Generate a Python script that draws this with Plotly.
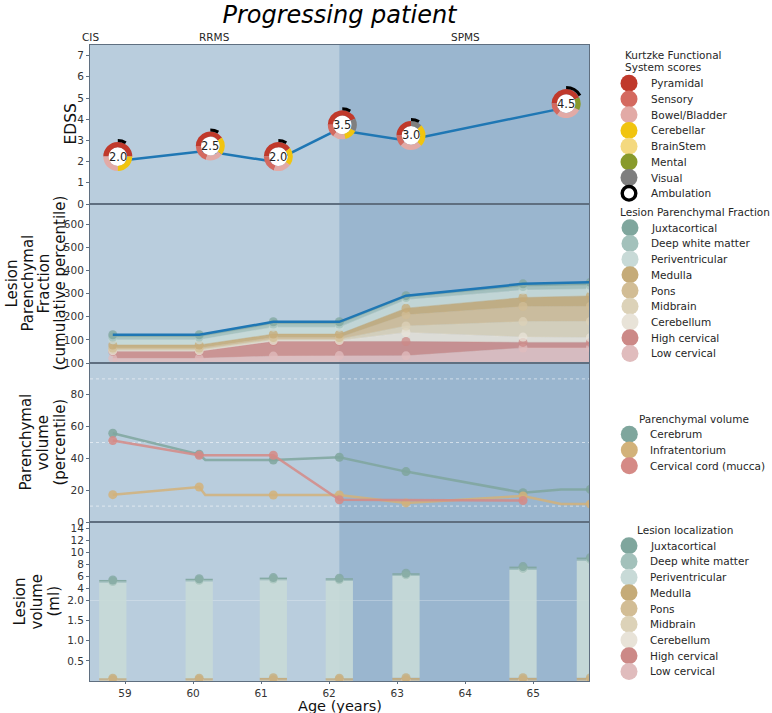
import numpy as np
import plotly.graph_objects as go
from plotly.subplots import make_subplots

# ======================= DATA =======================
phase_labels = ["CIS", "RRMS", "SPMS"]
phase_start = [58.40, 58.485, 62.15]
phase_end = [58.57, 62.15, 65.85]

# clinical visits (EDSS + Kurtzke functional systems)
clinical_age = [58.82, 60.18, 61.18, 62.12, 63.13, 65.41]
edss = [2.0, 2.5, 2.0, 3.5, 3.0, 4.5]

fs_names = ["Pyramidal", "Sensory", "Bowel/Bladder", "Cerebellar", "BrainStem", "Mental", "Visual"]
fs_pyramidal = [2, 2, 2, 3, 2, 3]
fs_sensory = [0, 1, 1, 1, 1, 1]
fs_bowel_bladder = [1, 1, 1, 1, 2, 2]
fs_cerebellar = [1, 1, 1, 1, 2, 0]
fs_brainstem = [0, 0, 0, 0, 0, 0]
fs_mental = [0, 0, 0, 0, 0, 1]
fs_visual = [0, 0, 0, 1, 1, 0]
ambulation = [1, 1, 1, 1, 1, 2]
AMBULATION_MAX = 12

# MRI examinations
mri_age = [58.82, 60.09, 61.18, 62.15, 63.13, 64.85, 65.84]

lesion_names = ["Juxtacortical", "Deep white matter", "Periventricular", "Medulla", "Pons",
                "Midbrain", "Cerebellum", "High cervical", "Low cervical"]

# Lesion parenchymal fraction (percentile contribution per region)
lpf_juxtacortical = [10, 10, 10, 10, 8, 12, 13]
lpf_deep_white = [12, 12, 13, 13, 10, 15, 16]
lpf_periventricular = [22, 22, 30, 30, 36, 32, 30]
lpf_medulla = [13, 13, 15, 15, 29, 39, 45]
lpf_pons = [7, 7, 7, 7, 48, 65, 65]
lpf_midbrain = [5, 5, 6, 6, 28, 67, 70]
lpf_cerebellum = [3, 3, 4, 4, 39, 23, 21]
lpf_high_cervical = [30, 30, 63, 61, 62, 24, 24]
lpf_low_cervical = [20, 20, 30, 32, 31, 65, 65]

# Parenchymal volume percentiles (merged MRI + clinical timeline)
pv_names = ["Cerebrum", "Infratentorium", "Cervical cord (mucca)"]
pv_timeline_age = [58.82, 60.09, 60.18, 61.18, 62.15, 63.13, 64.85, 65.41, 65.84]
pv_is_mri = [True, True, False, True, True, True, True, False, True]
pv_cerebrum = [55.8, 42.6, 39.0, 39.0, 40.7, 31.7, 18.4, 20.5, 20.5]
pv_infratentorium = [17.2, 22.0, 17.0, 17.0, 17.0, 12.0, 16.4, 11.3, 11.3]
pv_cervical = [51.2, 42.0, 42.0, 42.0, 14.0, None, 13.5, None, None]

# Lesion volume (ml)
lv_juxtacortical = [0.25, 0.25, 0.25, 0.25, 0.25, 0.30, 0.30]
lv_deep_white = [0.20, 0.20, 0.20, 0.20, 0.20, 0.25, 0.25]
lv_periventricular = [4.88, 5.08, 5.26, 5.17, 5.98, 6.98, 8.48]
lv_medulla = [0.04, 0.04, 0.05, 0.04, 0.05, 0.05, 0.05]
lv_pons = [0.02, 0.02, 0.02, 0.02, 0.02, 0.02, 0.02]
lv_midbrain = [0.01, 0.01, 0.01, 0.01, 0.01, 0.01, 0.01]
lv_cerebellum = [0.0, 0.0, 0.0, 0.0, 0.0, 0.0, 0.0]
lv_high_cervical = [0.0, 0.0, 0.0, 0.0, 0.0, 0.0, 0.0]
lv_low_cervical = [0.0, 0.0, 0.0, 0.0, 0.0, 0.0, 0.0]

edss_ticks = [0, 1, 2, 3, 4, 5, 6, 7]
lpf_ticks = [100, 200, 300, 400, 500, 600]
pv_ticks = [0, 20, 40, 60, 80, 100]
pv_guides = [10, 50, 90]
lv_ticks = [0.5, 1.0, 1.5, 2.0, 4, 6, 8, 10, 12, 14]
lv_ticktext = ["0.5", "1.0", "1.5", "2.0", "4", "6", "8", "10", "12", "14"]
age_ticks = [59, 60, 61, 62, 63, 64, 65]

# ======================= STYLE =======================
FIG_W, FIG_H = 772, 713
M_L, M_R, M_T, M_B = 90, 183, 45, 32
PW = FIG_W - M_L - M_R
PH = FIG_H - M_T - M_B
X_RANGE = [58.485, 65.82]
EDSS_RANGE = [0, 7.5]
LPF_RANGE = [0, 687]
PV_RANGE = [0, 100]
LV_BREAK, LV_SCALE = 2.0, 0.15
LV_TOP = 15.0
FONT = "DejaVu Sans"
TXT = "#262626"
SPINE = "#5f6f80"
BG_LIGHT = "#b9cddd"
BG_DARK = "#9ab6cf"
phase_colors = [BG_LIGHT, BG_LIGHT, BG_DARK]

fs_colors = ["#c0392b", "#d4695f", "#e2aaa6", "#f1c40f", "#f4d97f", "#889a2c", "#7f7f7f"]
lesion_colors = ["#7fa69d", "#a3c1bb", "#c8dad7", "#c5ab78", "#d2bd95", "#dcd2b8",
                 "#e8e3d8", "#cc8987", "#e0bcbd"]
pv_colors = ["#7fa69d", "#d2b27a", "#d58a86"]
LINE_BLUE = "#1f77b4"


def rgba(h, a):
    h = h.lstrip("#")
    return f"rgba({int(h[0:2], 16)},{int(h[2:4], 16)},{int(h[4:6], 16)},{a})"


def T(v):
    v = np.asarray(v, dtype=float)
    return np.where(v <= LV_BREAK, v, LV_BREAK + (v - LV_BREAK) * LV_SCALE)


def pxx(px):
    return (px - M_L) / PW


def pxy(py):
    return (FIG_H - M_B - py) / PH


fig = make_subplots(rows=4, cols=1, shared_xaxes=True, vertical_spacing=0)

# ---------- background phases ----------
for r, (xa, ya) in enumerate([("x", "y"), ("x2", "y2"), ("x3", "y3"), ("x4", "y4")]):
    for s, e, c in zip(phase_start, phase_end, phase_colors):
        fig.add_shape(type="rect", xref=xa, yref=ya + " domain", x0=s, x1=e, y0=0, y1=1,
                      fillcolor=c, line_width=0, layer="below")

for g in pv_guides:
    fig.add_shape(type="line", xref="x3 domain", yref="y3", x0=0, x1=1, y0=g, y1=g,
                  line=dict(color="rgba(255,255,255,0.55)", width=1, dash="dot"), layer="below")
fig.add_shape(type="line", xref="x4 domain", yref="y4", x0=0, x1=1, y0=float(T(LV_BREAK)),
              y1=float(T(LV_BREAK)), line=dict(color="rgba(255,255,255,0.25)", width=1), layer="below")

# ---------- Panel 1: EDSS with FS donuts ----------
fig.add_trace(go.Scatter(x=clinical_age, y=edss, mode="lines", line=dict(color=LINE_BLUE, width=2.5),
                         showlegend=False, hoverinfo="skip"), row=1, col=1)

DONUT_DX_PX, DONUT_DY_PX = 5, 5
R_OUT, R_IN, R_AMB = 14.5, 9.3, 17.5
xspan = X_RANGE[1] - X_RANGE[0]
dx = DONUT_DX_PX * xspan / PW
dy = DONUT_DY_PX * (EDSS_RANGE[1] - EDSS_RANGE[0]) / (PH / 4)
donut_x = [a + dx for a in clinical_age]
donut_y = [e + dy for e in edss]

fig.add_trace(go.Scatter(x=donut_x, y=donut_y, mode="markers",
                         marker=dict(size=2 * R_IN, color="white", line_width=0),
                         showlegend=False, hoverinfo="skip"), row=1, col=1)

fs_table = [fs_pyramidal, fs_sensory, fs_bowel_bladder, fs_cerebellar, fs_brainstem, fs_mental, fs_visual]
for i in range(len(clinical_age)):
    cx = (donut_x[i] - X_RANGE[0]) / xspan
    cy = 0.75 + 0.25 * (donut_y[i] - EDSS_RANGE[0]) / (EDSS_RANGE[1] - EDSS_RANGE[0])
    vals = [row[i] for row in fs_table]
    fig.add_trace(go.Pie(values=vals, labels=fs_names, sort=False, direction="counterclockwise",
                         rotation=-90, hole=R_IN / R_OUT, textinfo="none", textposition="none",
                         hoverinfo="skip", showlegend=False,
                         marker=dict(colors=fs_colors, line=dict(width=0)),
                         domain=dict(x=[cx - R_OUT / PW, cx + R_OUT / PW],
                                     y=[cy - R_OUT / PH, cy + R_OUT / PH])))
    fig.add_trace(go.Pie(values=[ambulation[i], AMBULATION_MAX - ambulation[i]], labels=["amb", "rest"],
                         sort=False, direction="clockwise", rotation=0, hole=0.83,
                         textinfo="none", textposition="none", hoverinfo="skip", showlegend=False,
                         marker=dict(colors=["#000000", "rgba(0,0,0,0)"], line=dict(width=0)),
                         domain=dict(x=[cx - R_AMB / PW, cx + R_AMB / PW],
                                     y=[cy - R_AMB / PH, cy + R_AMB / PH])))
    fig.add_annotation(x=donut_x[i], y=donut_y[i], xref="x", yref="y", text=f"{edss[i]:.1f}",
                       showarrow=False, font=dict(size=11.5, color="#222222", family=FONT))

# ---------- Panel 2: lesion parenchymal fraction (stacked) ----------
lpf_layers = [lpf_low_cervical, lpf_high_cervical, lpf_cerebellum, lpf_midbrain, lpf_pons,
              lpf_medulla, lpf_periventricular, lpf_deep_white, lpf_juxtacortical]
layer_colors = lesion_colors[::-1]
for vals, c in zip(lpf_layers, layer_colors):
    fig.add_trace(go.Scatter(x=mri_age, y=vals, stackgroup="lpf", mode="lines+markers",
                             line=dict(width=0.5, color=rgba(c, 0.9)), fillcolor=rgba(c, 0.85),
                             marker=dict(size=9, color=rgba(c, 0.75)),
                             showlegend=False, hoverinfo="skip"), row=2, col=1)
lpf_total = np.sum(np.array(lpf_layers, dtype=float), axis=0)
fig.add_trace(go.Scatter(x=mri_age, y=lpf_total, mode="lines", line=dict(color=LINE_BLUE, width=2.5),
                         showlegend=False, hoverinfo="skip"), row=2, col=1)

# ---------- Panel 3: parenchymal volume ----------
for vals, c in zip([pv_cerebrum, pv_infratentorium, pv_cervical], pv_colors):
    fig.add_trace(go.Scatter(x=pv_timeline_age, y=vals, mode="lines", connectgaps=True,
                             line=dict(color=rgba(c, 0.85), width=2.5),
                             showlegend=False, hoverinfo="skip"), row=3, col=1)
    mx = [a for a, m, v in zip(pv_timeline_age, pv_is_mri, vals) if m and v is not None]
    my = [v for m, v in zip(pv_is_mri, vals) if m and v is not None]
    fig.add_trace(go.Scatter(x=mx, y=my, mode="markers", marker=dict(size=9, color=rgba(c, 0.85)),
                             showlegend=False, hoverinfo="skip"), row=3, col=1)

# ---------- Panel 4: lesion volume (stacked bars, broken scale) ----------
lv_layers = [lv_low_cervical, lv_high_cervical, lv_cerebellum, lv_midbrain, lv_pons,
             lv_medulla, lv_periventricular, lv_deep_white, lv_juxtacortical]
bottom = np.zeros(len(mri_age))
tops = []
for vals, c in zip(lv_layers, layer_colors):
    top = bottom + np.array(vals, dtype=float)
    fig.add_trace(go.Bar(x=mri_age, y=T(top) - T(bottom), base=T(bottom), width=0.4,
                         marker=dict(color=rgba(c, 0.9), line=dict(width=0)),
                         showlegend=False, hoverinfo="skip"), row=4, col=1)
    tops.append((top.copy(), c))
    bottom = top
for top, c in tops:
    fig.add_trace(go.Scatter(x=mri_age, y=T(top), mode="markers",
                             marker=dict(size=9, color=rgba(c, 0.75)),
                             showlegend=False, hoverinfo="skip"), row=4, col=1)

# ---------- axes ----------
for r in range(1, 5):
    fig.update_xaxes(range=X_RANGE, showline=True, mirror=True, linecolor=SPINE, linewidth=1,
                     showgrid=False, zeroline=False, row=r, col=1)
    fig.update_yaxes(showline=True, mirror=True, linecolor=SPINE, linewidth=1, showgrid=False,
                     zeroline=False, ticks="outside", ticklen=3, tickcolor=SPINE,
                     tickfont=dict(size=10.5, color="#333333", family=FONT), row=r, col=1)
fig.update_xaxes(tickvals=age_ticks, ticks="outside", ticklen=2, tickcolor=SPINE,
                 tickfont=dict(size=10.5, color="#333333", family=FONT), row=4, col=1)
fig.update_yaxes(range=EDSS_RANGE, tickvals=edss_ticks, row=1, col=1)
fig.update_yaxes(range=LPF_RANGE, tickvals=lpf_ticks, row=2, col=1)
fig.update_yaxes(range=PV_RANGE, tickvals=pv_ticks, row=3, col=1)
fig.update_yaxes(range=[0, float(T(LV_TOP))], tickvals=list(T(lv_ticks)), ticktext=lv_ticktext,
                 row=4, col=1)

# ---------- axis titles ----------
ylabel_lines = [
    (124.5, [("EDSS", 70)]),
    (283.5, [("Lesion", 11), ("Parenchymal", 27), ("Fraction", 43), ("(cumulative percentile)", 59)]),
    (442.5, [("Parenchymal", 25), ("volume", 42), ("(percentile)", 59)]),
    (601.5, [("Lesion", 19), ("volume", 36), ("(ml)", 53)]),
]
for cy, lines in ylabel_lines:
    for txt, x_px in lines:
        fig.add_annotation(x=pxx(x_px), y=pxy(cy), xref="paper", yref="paper", text=txt,
                           textangle=-90, showarrow=False, xanchor="center", yanchor="middle",
                           font=dict(size=15.5 if txt == "EDSS" else 15, color="#111111", family=FONT))
fig.add_annotation(x=pxx(339.5), y=pxy(705.5), xref="paper", yref="paper", text="Age (years)",
                   showarrow=False, xanchor="center", yanchor="middle",
                   font=dict(size=14.5, color="#111111", family=FONT))

# phase labels
for lab, s, e in zip(phase_labels, phase_start, phase_end):
    fig.add_annotation(x=(s + e) / 2, y=pxy(37), xref="x", yref="paper", text=lab, showarrow=False,
                       xanchor="center", yanchor="middle", font=dict(size=10.5, color=TXT, family=FONT))

# ---------- manual legends ----------
STEP = 15.72
legend_groups = [
    dict(title=["Kurtzke Functional", "System scores"], tx0=622.7, ty=[55, 66.7],
         labels=fs_names + ["Ambulation"], colors=fs_colors + [None], y0=83.3, mx=629, tx=648.5),
    dict(title=["Lesion Parenchymal Fraction"], tx0=618.3, ty=[212.3],
         labels=lesion_names, colors=lesion_colors, y0=227.7, mx=630, tx=649.3),
    dict(title=["Parenchymal volume"], tx0=636.5, ty=[419],
         labels=pv_names, colors=pv_colors, y0=434.3, mx=629.3, tx=648.3),
    dict(title=["Lesion localization"], tx0=635, ty=[530],
         labels=lesion_names, colors=lesion_colors, y0=545.7, mx=629, tx=648.3),
]
for grp in legend_groups:
    for t, ty in zip(grp["title"], grp["ty"]):
        fig.add_annotation(x=pxx(grp["tx0"]), y=pxy(ty), xref="paper", yref="paper", text=t,
                           showarrow=False, xanchor="left", yanchor="middle",
                           font=dict(size=10.5, color=TXT, family=FONT))
    for k, (lab, c) in enumerate(zip(grp["labels"], grp["colors"])):
        yy = grp["y0"] + k * STEP
        if c is None:
            fig.add_shape(type="circle", xref="paper", yref="paper", xsizemode="pixel",
                          ysizemode="pixel", xanchor=pxx(grp["mx"]), yanchor=pxy(yy),
                          x0=-6.8, x1=6.8, y0=-6.8, y1=6.8, fillcolor="white",
                          line=dict(color="black", width=3.4))
        else:
            fig.add_shape(type="circle", xref="paper", yref="paper", xsizemode="pixel",
                          ysizemode="pixel", xanchor=pxx(grp["mx"]), yanchor=pxy(yy),
                          x0=-8.5, x1=8.5, y0=-8.5, y1=8.5, fillcolor=c, line_width=0)
        fig.add_annotation(x=pxx(grp["tx"]), y=pxy(yy), xref="paper", yref="paper", text=lab,
                           showarrow=False, xanchor="left", yanchor="middle",
                           font=dict(size=10.5, color=TXT, family=FONT))

fig.update_layout(
    width=FIG_W, height=FIG_H, autosize=False,
    margin=dict(l=M_L, r=M_R, t=M_T, b=M_B),
    paper_bgcolor="white", plot_bgcolor=BG_LIGHT,
    barmode="overlay", showlegend=False,
    font=dict(family=FONT, color=TXT),
    title=dict(text="<i>Progressing patient</i>", x=0.5, xref="paper", xanchor="center",
               y=1 - 15 / FIG_H, yref="container", yanchor="middle",
               font=dict(size=24, color="#000000", family=FONT)),
)

fig.write_html("out.html")
